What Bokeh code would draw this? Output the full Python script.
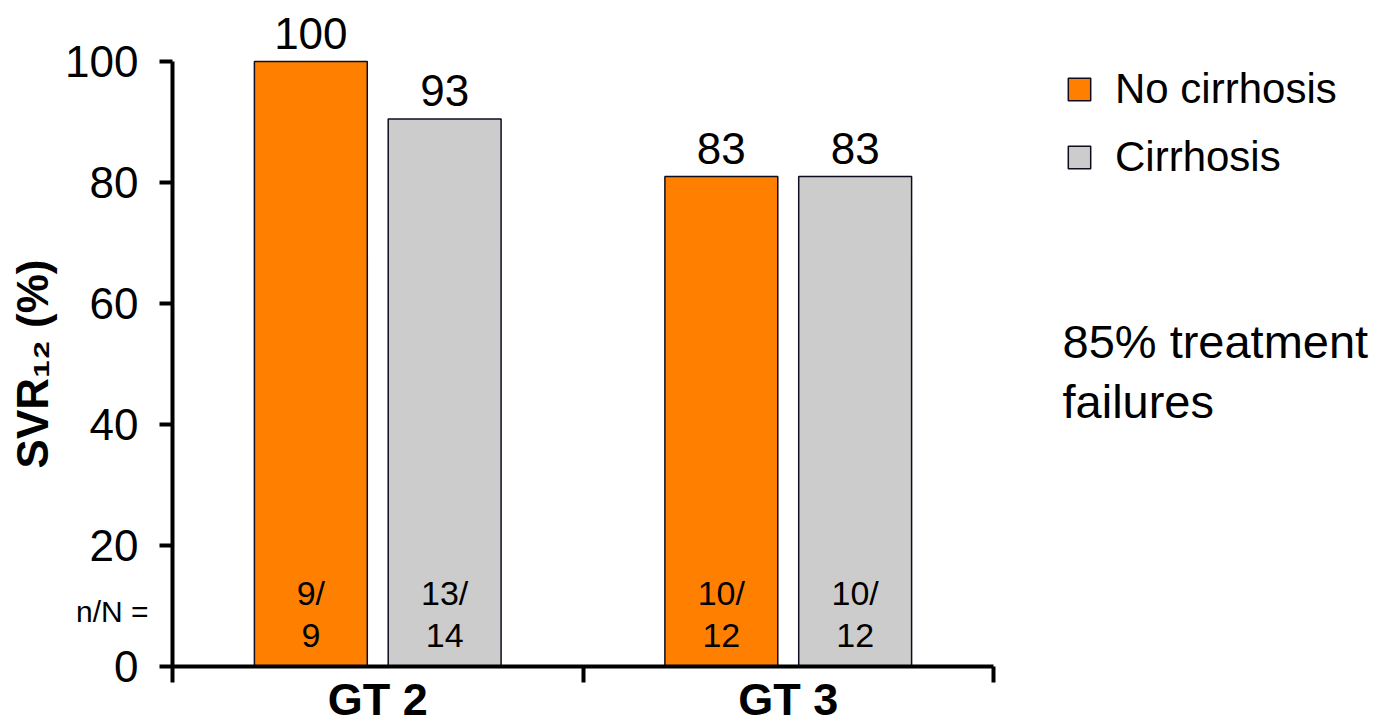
from bokeh.plotting import figure
from bokeh.models import ColumnDataSource, FixedTicker, Legend, LegendItem, Range1d, Label
from bokeh.embed import file_html
from bokeh.resources import INLINE
from bokeh.core.properties import value

# ---------------- data ----------------
groups = ["GT 2", "GT 3"]
series = ["No cirrhosis", "Cirrhosis"]
no_cirrhosis = [100, 81]          # bar heights as drawn
cirrhosis = [90.5, 81]
no_cirrhosis_text = ["100", "83"]  # printed values
cirrhosis_text = ["93", "83"]
no_cirrhosis_n = ["9/", "10/"]
no_cirrhosis_N = ["9", "12"]
cirrhosis_n = ["13/", "10/"]
cirrhosis_N = ["14", "12"]
y_ticks = [0, 20, 40, 60, 80, 100]
note_lines = ["85% treatment", "failures"]
nN_caption = "n/N ="
y_title = "SVR\u2081\u2082 (%)"

# ---------------- style / layout ----------------
FONT = "Liberation Sans"
ORANGE = "#FF8000"
GREY = "#CCCCCC"
EDGE = "#0D0D1F"

W, H = 1383, 728
PX0, UNIT_X = 172, 410.5    # page px of x = 0, px per group
PY0, UNIT_Y = 666, 6.05     # page px of y = 0, px per percent


def dx(px):
    return (px - PX0) / UNIT_X


def dy(py):
    return (PY0 - py) / UNIT_Y


OFF = 0.163
BAR_W = 0.275
gx = [i + 0.5 for i in range(len(groups))]
x_nc = [g - OFF for g in gx]
x_c = [g + OFF for g in gx]

src_nc = ColumnDataSource(dict(x=x_nc, top=no_cirrhosis, lab=no_cirrhosis_text,
                               n=no_cirrhosis_n, N=no_cirrhosis_N))
src_c = ColumnDataSource(dict(x=x_c, top=cirrhosis, lab=cirrhosis_text,
                              n=cirrhosis_n, N=cirrhosis_N))

p = figure(width=W, height=H,
           x_range=Range1d(dx(0), dx(W)), y_range=Range1d(dy(H), dy(0)),
           output_backend="svg", toolbar_location=None,
           min_border_left=0, min_border_right=0, min_border_top=0, min_border_bottom=0)
p.title.visible = False
p.outline_line_color = None
p.grid.visible = False
p.background_fill_color = "white"
p.border_fill_color = "white"

r1 = p.vbar(x="x", top="top", bottom=0, width=BAR_W, source=src_nc,
            fill_color=ORANGE, line_color=EDGE, line_width=1.5)
r2 = p.vbar(x="x", top="top", bottom=0, width=BAR_W, source=src_c,
            fill_color=GREY, line_color=EDGE, line_width=1.5)

for src in (src_nc, src_c):
    p.text(x="x", y="top", text="lab", source=src, y_offset=-28,
           text_align="center", text_baseline="middle",
           text_font=value(FONT), text_font_size="44px", text_color="black")
    p.text(x="x", y=dy(592), text="n", source=src,
           text_align="center", text_baseline="middle",
           text_font=value(FONT), text_font_size="34px", text_color="black")
    p.text(x="x", y=dy(635), text="N", source=src,
           text_align="center", text_baseline="middle",
           text_font=value(FONT), text_font_size="34px", text_color="black")

# y axis (drawn at x = 0)
ya = p.yaxis[0]
ya.fixed_location = 0
ya.ticker = FixedTicker(ticks=y_ticks)
ya.bounds = (0, 100)
ya.axis_line_width = 4
ya.axis_line_color = "black"
ya.major_tick_line_width = 4
ya.major_tick_line_color = "black"
ya.major_tick_out = 13
ya.major_tick_in = 0
ya.minor_tick_line_color = None
ya.minor_tick_out = 0
ya.major_label_text_font = FONT
ya.major_label_text_font_size = "44px"
ya.major_label_text_color = "black"
ya.major_label_standoff = 21
ya.axis_label = y_title
ya.axis_label_text_font = FONT
ya.axis_label_text_font_size = "44px"
ya.axis_label_text_font_style = "bold"
ya.axis_label_text_color = "black"
ya.axis_label_standoff = 5

# x axis (drawn at y = 0)
xa = p.xaxis[0]
xa.fixed_location = 0
xa.ticker = FixedTicker(ticks=gx, minor_ticks=list(range(len(groups) + 1)))
xa.major_label_overrides = {g: name for g, name in zip(gx, groups)}
xa.bounds = (0, len(groups))
xa.axis_line_width = 4
xa.axis_line_color = "black"
xa.major_tick_out = 0
xa.major_tick_in = 0
xa.major_tick_line_color = None
xa.minor_tick_out = 16
xa.minor_tick_in = 0
xa.minor_tick_line_width = 4
xa.minor_tick_line_color = "black"
xa.major_label_text_font = FONT
xa.major_label_text_font_size = "45px"
xa.major_label_text_font_style = "bold"
xa.major_label_text_color = "black"
xa.major_label_standoff = -9

# legend
legend = Legend(items=[LegendItem(label=series[0], renderers=[r1]),
                       LegendItem(label=series[1], renderers=[r2])],
                location=(1065, 547), glyph_width=28, glyph_height=28,
                label_text_font=FONT, label_text_font_size="42px", label_text_color="black",
                label_standoff=22, spacing=20, padding=0, margin=0,
                border_line_color=None, background_fill_alpha=0)
p.add_layout(legend)

# annotations
p.add_layout(Label(x=dx(148), y=dy(611), text=nN_caption, text_align="right",
                   text_baseline="middle", text_font=FONT, text_font_size="30px",
                   text_color="black"))
for line, center in zip(note_lines, (341, 401)):
    p.add_layout(Label(x=dx(1062), y=dy(center), text=line, text_align="left",
                       text_baseline="middle", text_font=FONT, text_font_size="47px",
                       text_color="black"))

open("out.html", "w").write(file_html(p, INLINE))
